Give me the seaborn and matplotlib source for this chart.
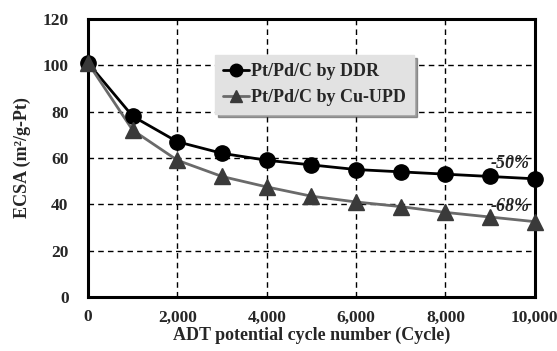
import matplotlib
matplotlib.use("Agg")
import matplotlib.pyplot as plt
import seaborn as sns
import pandas as pd

cycles = [0, 1000, 2000, 3000, 4000, 5000, 6000, 7000, 8000, 9000, 10000]
ddr = [101, 78, 67, 62, 59, 57, 55, 54, 53, 52, 51]
cu_upd = [101, 72, 59, 52, 47.5, 43.5, 41, 39, 36.5, 34.5, 32.5]
series_names = ["Pt/Pd/C by DDR", "Pt/Pd/C by Cu-UPD"]
xticks = [0, 2000, 4000, 6000, 8000, 10000]
xticklabels = ["0", "2,000", "4,000", "6,000", "8,000", "10,000"]
yticks = [0, 20, 40, 60, 80, 100, 120]

sns.set_theme(style="white")
plt.rcParams['font.family'] = ['Liberation Serif', 'DejaVu Serif']
plt.rcParams['font.weight'] = 'bold'

df = pd.DataFrame({
    "cycle": cycles * 2,
    "ecsa": ddr + cu_upd,
    "series": [series_names[0]] * len(cycles) + [series_names[1]] * len(cycles),
})

fig = plt.figure(figsize=(5.57, 3.51), dpi=100)
ax = fig.add_axes([0.158, 0.154, 0.802, 0.792])

palette = {series_names[0]: "#000000", series_names[1]: "#6a6a6a"}
sns.lineplot(data=df, x="cycle", y="ecsa", hue="series", palette=palette,
             ax=ax, linewidth=2.0, legend=False, zorder=3)
ax.plot(cycles, ddr, linestyle="none", marker="o", markersize=11,
        color="#000000", zorder=4, clip_on=False)
ax.plot(cycles, cu_upd, linestyle="none", marker="^", markersize=11,
        color="#3a3a3a", zorder=4, clip_on=False)

ax.set_xlim(0, 10000)
ax.set_ylim(0, 120)
ax.set_xticks(xticks)
ax.set_xticklabels(xticklabels)
ax.set_yticks(yticks)
ax.tick_params(axis="both", labelsize=12.5, length=0)
ax.tick_params(axis="x", pad=9)
ax.tick_params(axis="y", pad=14)
for lab in ax.get_xticklabels() + ax.get_yticklabels():
    lab.set_fontweight("bold")

ax.grid(True, color="black", linestyle=(0, (4, 3)), linewidth=1.0)
ax.set_axisbelow(True)
for s in ax.spines.values():
    s.set_visible(True)
    s.set_color("black")
    s.set_linewidth(2.2)

ax.set_xlabel("ADT potential cycle number (Cycle)", fontsize=13, fontweight="bold", labelpad=1)
ax.set_ylabel("ECSA (m²/g-Pt)", fontsize=13, fontweight="bold", labelpad=8)

from matplotlib.lines import Line2D
handles = [
    Line2D([], [], color="#000000", marker="o", markersize=9, linewidth=2),
    Line2D([], [], color="#6a6a6a", marker="^", markersize=9, markerfacecolor="#3a3a3a",
           markeredgecolor="#3a3a3a", linewidth=2),
]
leg = ax.legend(handles, series_names, loc="upper left", bbox_to_anchor=(0.285, 0.87),
                frameon=True, fancybox=False, shadow=True,
                handlelength=1.4, handletextpad=0.15, borderpad=0.45, labelspacing=0.5,
                borderaxespad=0, prop={"weight": "bold", "size": 13})
leg.get_frame().set_facecolor("#e2e2e2")
leg.get_frame().set_edgecolor("#e2e2e2")
leg.get_frame().set_alpha(1)

ax.text(9880, 57.5, "-50%", fontsize=13, fontstyle="italic", ha="right", va="center", zorder=5)
ax.text(9880, 39, "-68%", fontsize=13, fontstyle="italic", ha="right", va="center", zorder=5)

fig.savefig("out.png", dpi=100)
